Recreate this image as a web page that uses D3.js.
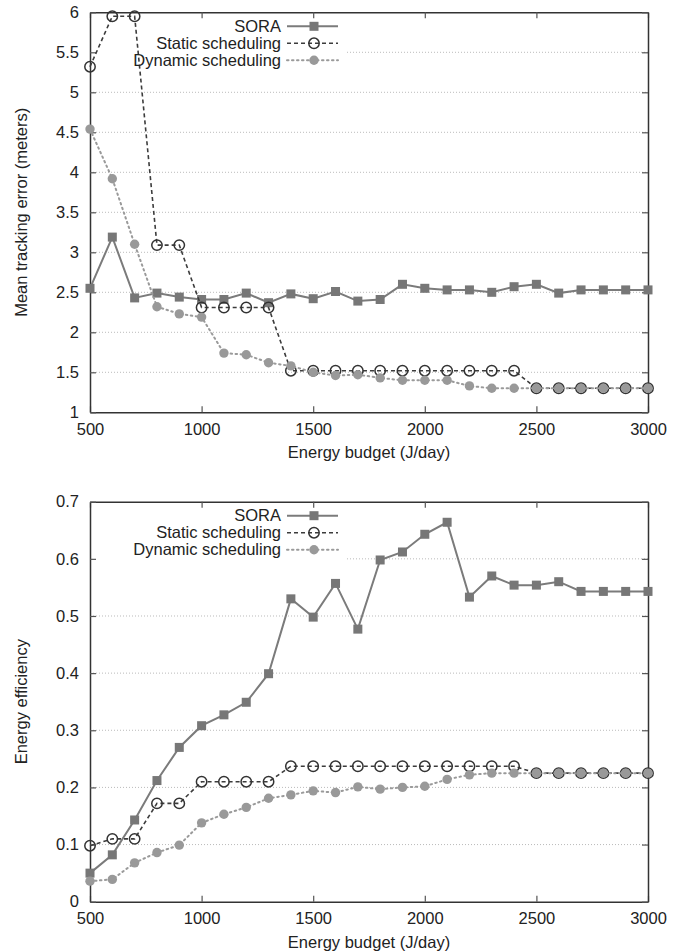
<!DOCTYPE html>
<html>
<head>
<meta charset="utf-8">
<script src="https://cdn.jsdelivr.net/npm/d3@7"></script>
<style>
  body { margin: 0; background: #fff; }
  svg text { font-family: "Liberation Sans", Arial, Helvetica, sans-serif; fill: #222; }
</style>
</head>
<body>
<svg id="chart" width="677" height="952"></svg>
<script>
// energy budgets (J/day)
const budgets = [500, 600, 700, 800, 900, 1000, 1100, 1200, 1300, 1400, 1500, 1600, 1700,
                 1800, 1900, 2000, 2100, 2200, 2300, 2400, 2500, 2600, 2700, 2800, 2900, 3000];
const xTicks = [500, 1000, 1500, 2000, 2500, 3000];

// top panel: mean tracking error (meters)
const soraError = [2.55, 3.19, 2.43, 2.49, 2.44, 2.41, 2.41, 2.49, 2.37, 2.48, 2.42, 2.51, 2.39,
                   2.41, 2.60, 2.55, 2.53, 2.53, 2.50, 2.57, 2.60, 2.49, 2.53, 2.53, 2.53, 2.53];
const staticError = [5.32, 5.95, 5.95, 3.09, 3.09, 2.31, 2.31, 2.31, 2.31, 1.52, 1.52, 1.52, 1.52,
                     1.52, 1.52, 1.52, 1.52, 1.52, 1.52, 1.52, 1.30, 1.30, 1.30, 1.30, 1.30, 1.30];
const dynamicError = [4.54, 3.92, 3.10, 2.32, 2.23, 2.19, 1.74, 1.72, 1.62, 1.58, 1.50, 1.46, 1.47,
                      1.43, 1.40, 1.40, 1.40, 1.33, 1.30, 1.30, 1.30, 1.30, 1.30, 1.30, 1.30, 1.30];
const errorTicks = [1, 1.5, 2, 2.5, 3, 3.5, 4, 4.5, 5, 5.5, 6];

// bottom panel: energy efficiency
const soraEff = [0.050, 0.082, 0.143, 0.212, 0.270, 0.308, 0.327, 0.349, 0.399, 0.530, 0.498, 0.557, 0.477,
                 0.598, 0.612, 0.643, 0.664, 0.533, 0.570, 0.554, 0.554, 0.560, 0.543, 0.543, 0.543, 0.543];
const staticEff = [0.098, 0.110, 0.110, 0.172, 0.172, 0.210, 0.210, 0.210, 0.210, 0.237, 0.237, 0.237, 0.237,
                   0.237, 0.237, 0.237, 0.237, 0.237, 0.237, 0.237, 0.225, 0.225, 0.225, 0.225, 0.225, 0.225];
const dynamicEff = [0.036, 0.039, 0.068, 0.086, 0.099, 0.138, 0.153, 0.165, 0.181, 0.187, 0.194, 0.191, 0.201,
                    0.197, 0.200, 0.202, 0.214, 0.222, 0.225, 0.225, 0.225, 0.225, 0.225, 0.225, 0.225, 0.225];
const effTicks = [0, 0.1, 0.2, 0.3, 0.4, 0.5, 0.6, 0.7];

const seriesNames = ['SORA', 'Static scheduling', 'Dynamic scheduling'];

const svg = d3.select('#chart');
const left = 90, right = 648, plotH = 400;
const fontSize = '16.5px';

function drawPanel(top, yDomain, yTicks, yLabel, values) {
    const x = d3.scaleLinear().domain([500, 3000]).range([left, right]);
    const y = d3.scaleLinear().domain(yDomain).range([top + plotH, top]);
    const g = svg.append('g');

    // legend extent (used to keep grid lines out of the key)
    const legX = left + 191, legTop = top + 4, legBottom = top + 58;

    // dotted grid
    g.append('g').selectAll('line')
        .data(yTicks.filter(t => t !== yDomain[0] && t !== yDomain[1]))
        .enter().append('line')
        .attr('x1', t => (y(t) > legTop && y(t) < legBottom) ? legX + 66 : left)
        .attr('x2', right)
        .attr('y1', t => y(t)).attr('y2', t => y(t))
        .attr('stroke', '#aaa').attr('stroke-width', 0.8)
        .attr('stroke-dasharray', '1,2');

    // axes with inward ticks, mirrored on top/right
    const fmt = d3.format('~g');
    g.append('g').attr('transform', 'translate(0,' + (top + plotH) + ')')
        .call(d3.axisBottom(x).tickValues(xTicks).tickSizeInner(-6).tickSizeOuter(0).tickPadding(11).tickFormat(d3.format('d')));
    g.append('g').attr('transform', 'translate(0,' + top + ')')
        .call(d3.axisTop(x).tickValues(xTicks).tickSizeInner(-6).tickSizeOuter(0).tickFormat(''));
    g.append('g').attr('transform', 'translate(' + left + ',0)')
        .call(d3.axisLeft(y).tickValues(yTicks).tickSizeInner(-6).tickSizeOuter(0).tickPadding(11).tickFormat(fmt));
    g.append('g').attr('transform', 'translate(' + right + ',0)')
        .call(d3.axisRight(y).tickValues(yTicks).tickSizeInner(-6).tickSizeOuter(0).tickFormat(''));
    g.selectAll('.domain').attr('stroke', '#333').attr('stroke-width', 1.5);
    g.selectAll('.tick line').attr('stroke', '#555').attr('stroke-width', 1.2);
    g.selectAll('.tick text').style('font-size', fontSize).attr('fill', '#222');

    g.append('text')
        .attr('x', (left + right) / 2).attr('y', top + plotH + 46)
        .attr('text-anchor', 'middle').style('font-size', fontSize)
        .text('Energy budget (J/day)');
    g.append('text')
        .attr('transform', 'translate(27,' + (top + plotH / 2) + ') rotate(-90)')
        .attr('text-anchor', 'middle').style('font-size', fontSize)
        .text(yLabel);

    const styles = [
        { stroke: '#7b7b7b', dash: null, width: 2, marker: 'square' },
        { stroke: '#3c3c3c', dash: '4,3', width: 1.6, marker: 'open' },
        { stroke: '#9a9a9a', dash: '1.5,3.5', width: 2, marker: 'dot' }
    ];

    const line = d3.line().x((d, i) => x(budgets[i])).y(d => y(d));

    function marker(sel, st, px, py) {
        if (st.marker === 'square') {
            sel.append('rect').attr('x', px - 4.5).attr('y', py - 4.5)
                .attr('width', 9).attr('height', 9).attr('fill', '#777');
        } else if (st.marker === 'open') {
            sel.append('circle').attr('cx', px).attr('cy', py).attr('r', 5.2)
                .attr('fill', 'none').attr('stroke', '#333').attr('stroke-width', 1.5);
        } else {
            sel.append('circle').attr('cx', px).attr('cy', py).attr('r', 4.7)
                .attr('fill', '#999');
        }
    }

    values.forEach((vals, k) => {
        const st = styles[k];
        g.append('path').datum(vals).attr('d', line)
            .attr('fill', 'none').attr('stroke', st.stroke).attr('stroke-width', st.width)
            .attr('stroke-dasharray', st.dash).attr('stroke-linecap', st.marker === 'dot' ? 'round' : 'butt');
        const mg = g.append('g');
        vals.forEach((v, i) => marker(mg, st, x(budgets[i]), y(v)));

        // legend row
        const ly = top + 14 + k * 17;
        g.append('text').attr('x', legX).attr('y', ly).attr('dy', '0.35em')
            .attr('text-anchor', 'end').style('font-size', fontSize).text(seriesNames[k]);
        g.append('line').attr('x1', legX + 6).attr('x2', legX + 57).attr('y1', ly).attr('y2', ly)
            .attr('stroke', st.stroke).attr('stroke-width', st.width)
            .attr('stroke-dasharray', st.dash).attr('stroke-linecap', st.marker === 'dot' ? 'round' : 'butt');
        marker(g, st, legX + 33, ly);
    });
}

drawPanel(12.3, [1, 6], errorTicks, 'Mean tracking error (meters)', [soraError, staticError, dynamicError]);
drawPanel(501.7, [0, 0.7], effTicks, 'Energy efficiency', [soraEff, staticEff, dynamicEff]);
</script>
</body>
</html>
